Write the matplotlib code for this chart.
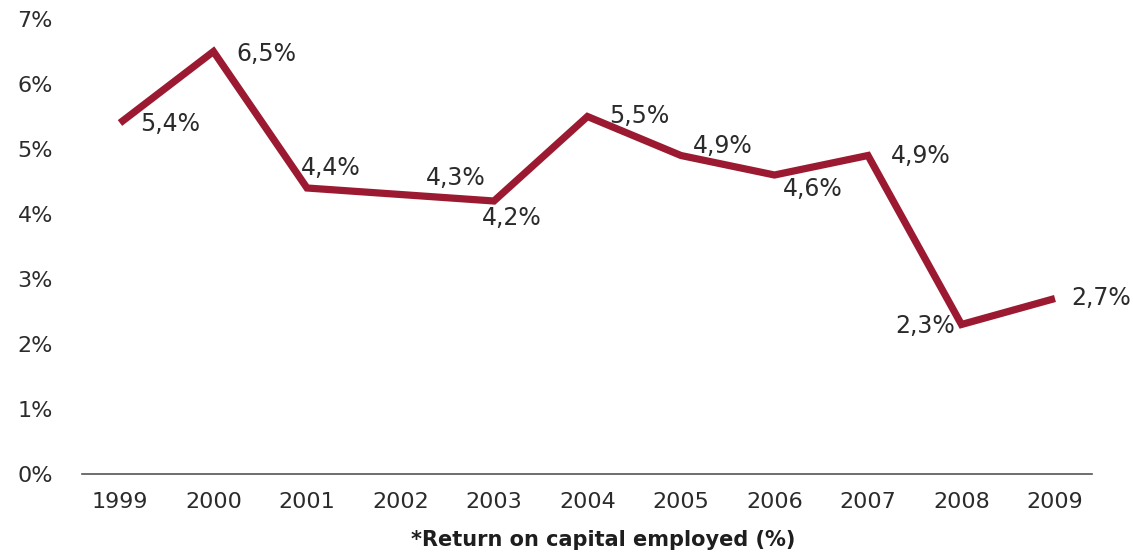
import matplotlib
matplotlib.use("Agg")
import matplotlib.pyplot as plt

years = [1999, 2000, 2001, 2002, 2003, 2004, 2005, 2006, 2007, 2008, 2009]
roce = [5.4, 6.5, 4.4, 4.3, 4.2, 5.5, 4.9, 4.6, 4.9, 2.3, 2.7]
value_labels = ["5,4%", "6,5%", "4,4%", "4,3%", "4,2%", "5,5%", "4,9%", "4,6%", "4,9%", "2,3%", "2,7%"]
y_ticks = [0, 1, 2, 3, 4, 5, 6, 7]
y_tick_labels = ["0%", "1%", "2%", "3%", "4%", "5%", "6%", "7%"]
x_label = "*Return on capital employed (%)"

# label offsets in pixels (dx, dy, ha)
offsets = [(20, -1, "left"), (23, -2, "left"), (-6, 20, "left"), (25, 16, "left"),
           (-12, -17, "left"), (22, 0, "left"), (12, 10, "left"), (8, -14, "left"),
           (23, 0, "left"), (-6, -1, "right"), (16, 1, "left")]

dpi = 100
fig = plt.figure(figsize=(11.33, 5.54), dpi=dpi)
ax = fig.add_axes([82 / 1133, 1 - 474 / 554, (1092 - 82) / 1133, (474 - 19) / 554])

line_color = "#9c1a31"
text_color = "#2b2b2b"

ax.plot(years, roce, color=line_color, lw=5.2, solid_joinstyle="miter", solid_capstyle="butt", clip_on=False)

for x, y, lab, (dx, dy, ha) in zip(years, roce, value_labels, offsets):
    ax.annotate(lab, (x, y), xytext=(dx * 72 / dpi, dy * 72 / dpi), textcoords="offset points",
                ha=ha, va="center", fontsize=17, color=text_color, family="DejaVu Sans")

ax.set_xlim(1998.594, 2009.396)
ax.set_ylim(0, 7)
ax.set_xticks(years)
ax.set_xticklabels([str(y) for y in years])
ax.set_yticks(y_ticks)
ax.set_yticklabels(y_tick_labels)
ax.tick_params(axis="both", length=0, labelsize=16, colors=text_color)
ax.tick_params(axis="x", pad=13)
ax.tick_params(axis="y", pad=21)
for s in ["top", "right", "left"]:
    ax.spines[s].set_visible(False)
ax.spines["bottom"].set_color("#555555")
ax.spines["bottom"].set_linewidth(1.2)

fig.text(603 / 1133, 1 - 540 / 554, x_label, ha="center", va="center", fontsize=15,
         fontweight="bold", family="DejaVu Sans", color="#1e1e1e")

fig.savefig("out.png", dpi=dpi, facecolor="white")
